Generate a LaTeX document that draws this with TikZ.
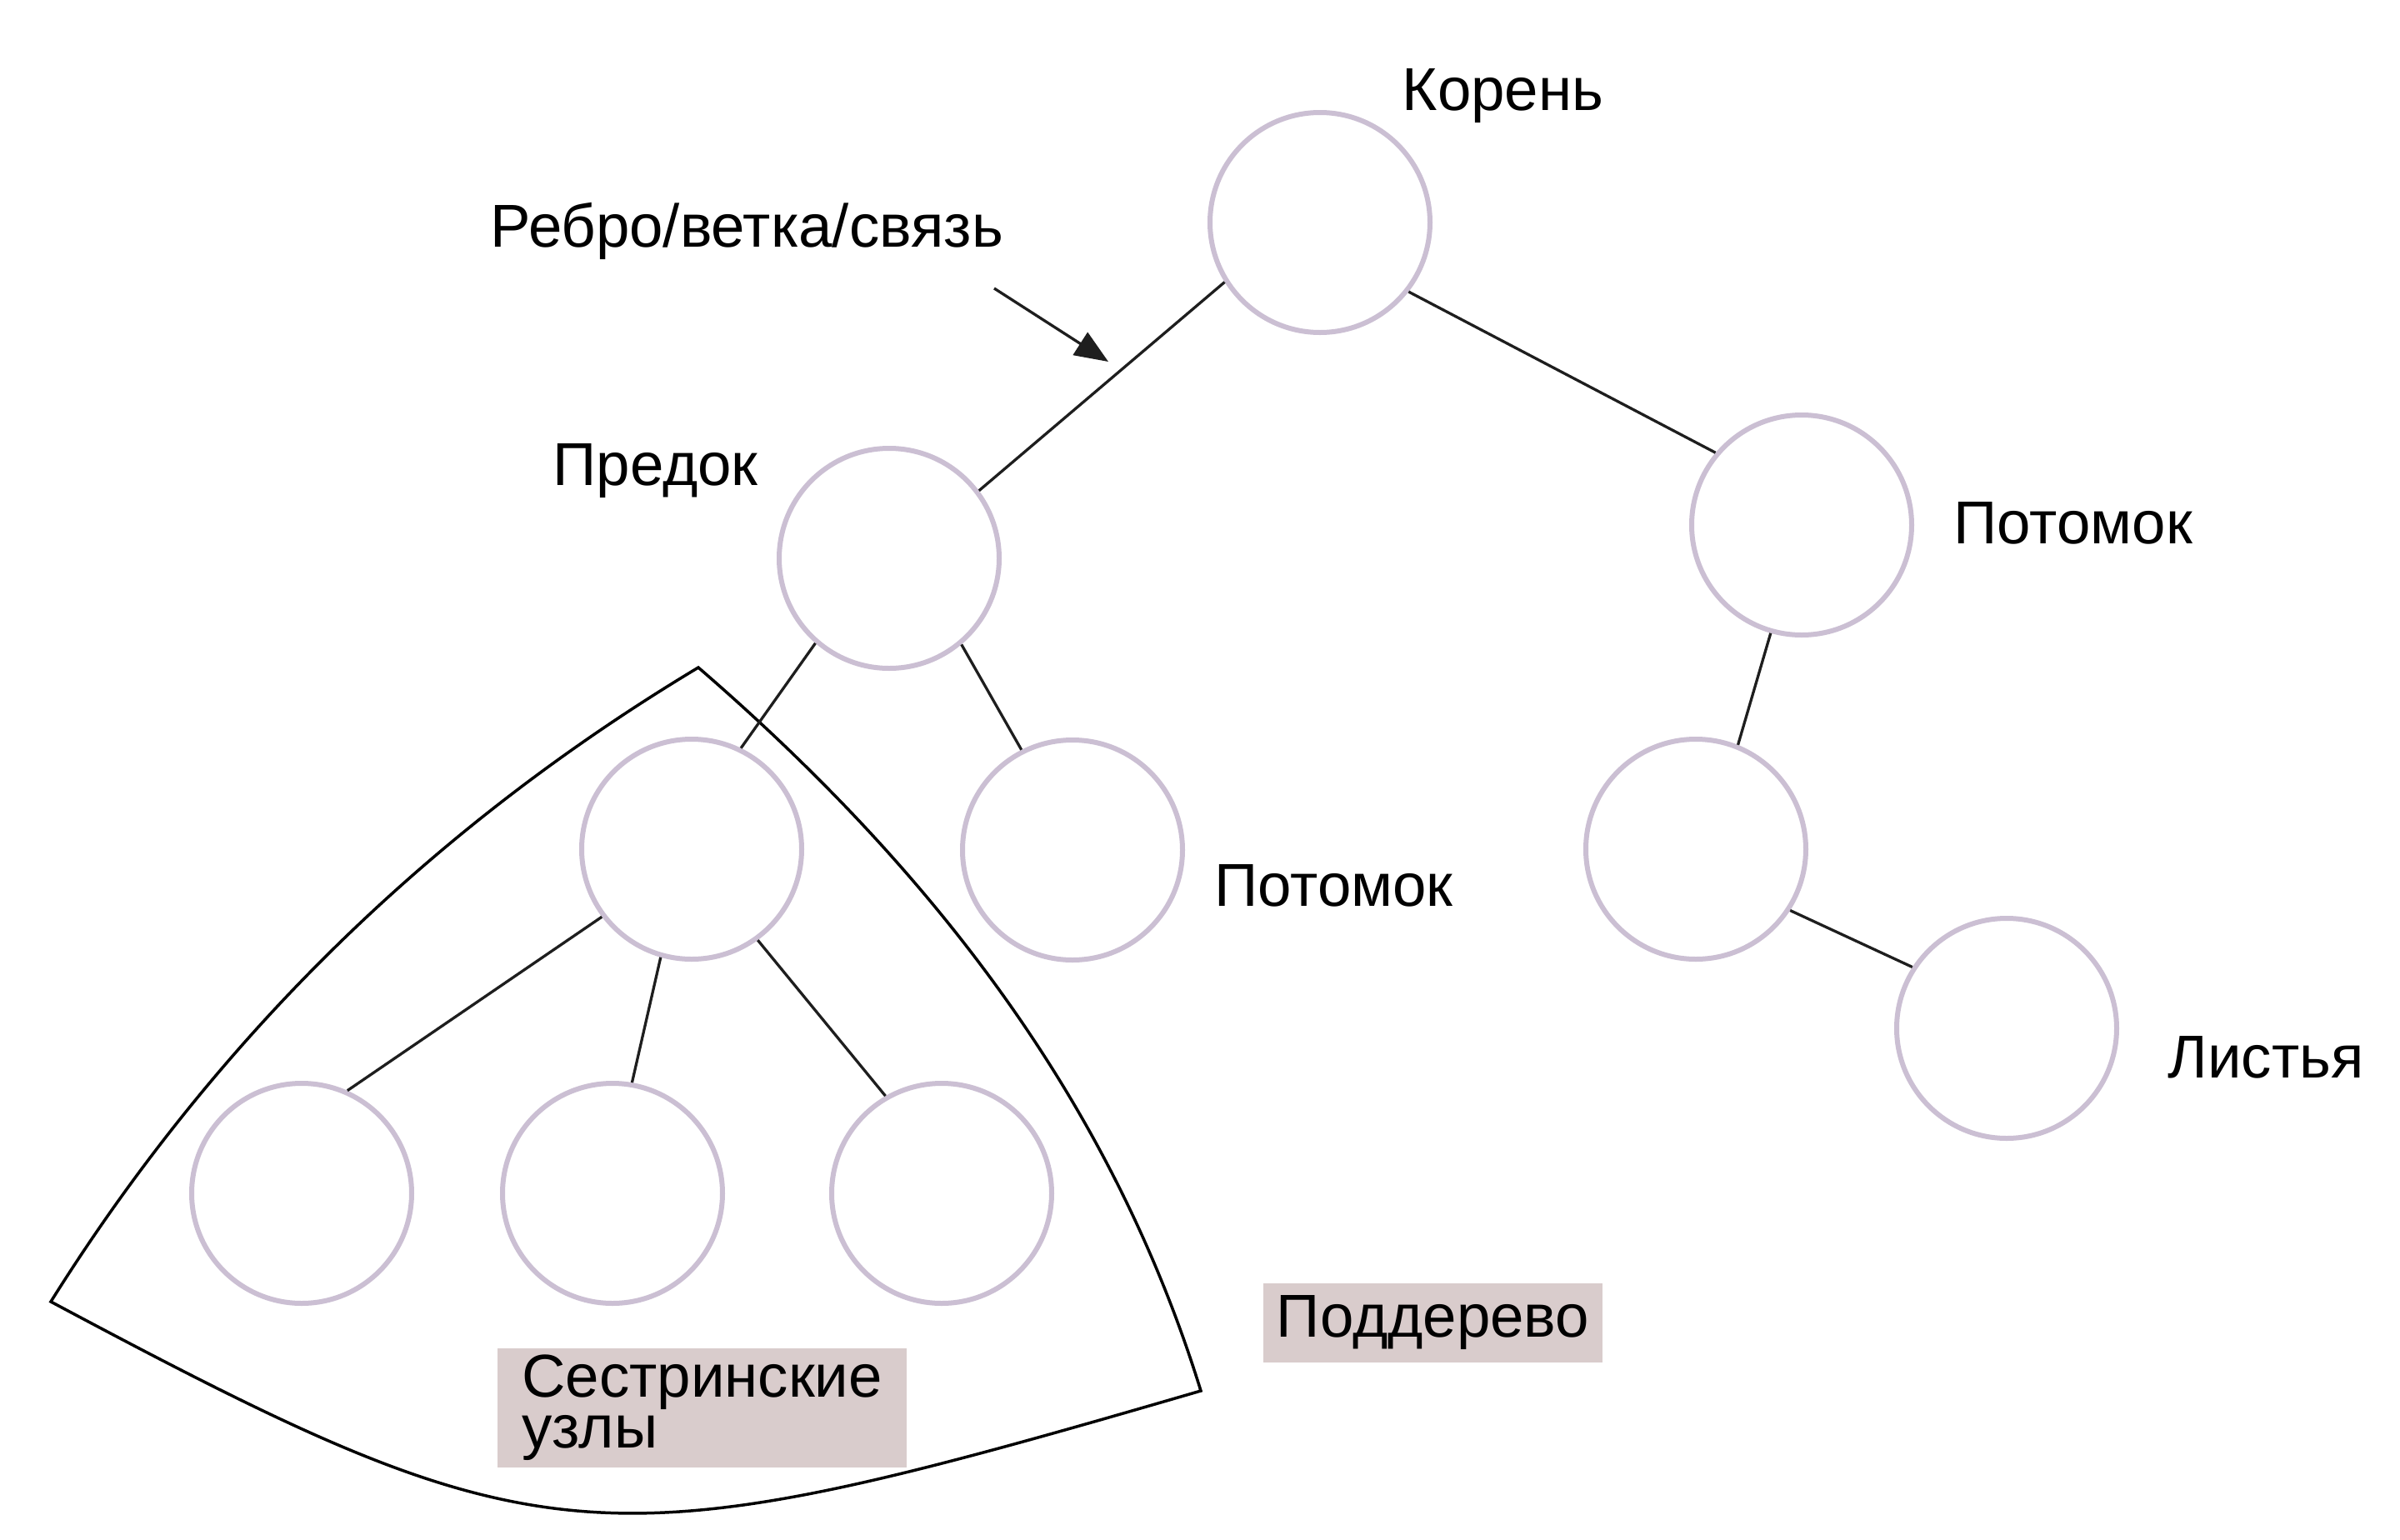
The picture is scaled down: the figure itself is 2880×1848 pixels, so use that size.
\documentclass[tikz,border=0pt]{standalone}
\usepackage{fontspec}
\setmainfont{Liberation Sans}
\usetikzlibrary{arrows.meta}
\definecolor{ringc}{HTML}{CBBFD3}
\definecolor{boxc}{HTML}{D9CCCC}
\definecolor{edgec}{HTML}{1E1E1E}
\newdimen\pxu \pxu=0.01cm
\begin{document}
\begin{tikzpicture}[x=0.01cm,y=-0.01cm,
  treenode/.style={circle, draw=ringc, line width=6\pxu, minimum size=264\pxu, inner sep=0pt, fill=white},
  edge/.style={draw=edgec, line width=3.3\pxu},
  lbl/.style={font=\fontsize{20.66}{24}\selectfont, anchor=base west, inner sep=0pt},
  tagbox/.style={fill=boxc, inner sep=0pt, font=\fontsize{20.66}{17.4}\selectfont}
]
\useasboundingbox (0,0) rectangle (2880,1848);

% subtree outline
\draw[line width=3.5\pxu, line join=miter] (838,801)
  .. controls (518,993) and (259,1246) .. (61,1562)
  .. controls (657,1880) and (717,1880) .. (1441,1669)
  .. controls (1332,1316) and (1113.5,1039) .. cycle;

% nodes
\node[treenode] (root) at (1584,267) {};
\node[treenode] (pred) at (1067,670) {};
\node[treenode] (right) at (2162,630) {};
\node[treenode] (child) at (830,1019) {};
\node[treenode] (mid) at (1287,1020) {};
\node[treenode] (rchild) at (2035,1019) {};
\node[treenode] (leaf) at (2408,1234) {};
\node[treenode] (sib1) at (362,1432) {};
\node[treenode] (sib2) at (735,1432) {};
\node[treenode] (sib3) at (1130,1432) {};

% edges
\draw[edge] (root.212) -- (pred.37);
\draw[edge] (root.322) -- (right.140);
\draw[edge] (pred.229) -- (child.64);
\draw[edge] (pred.310) -- (mid.117);
\draw[edge] (right.254) -- (rchild.68);
\draw[edge] (rchild.327) -- (leaf.147);
\draw[edge] (child.217) -- (sib1.66);
\draw[edge] (child.254) -- (sib2.80);
\draw[edge] (child.306) -- (sib3.120);

% arrow
\coordinate (arrS) at (1193,346);
\coordinate (arrE) at (1330,434);
\draw[edgec, line width=3.3\pxu, -{Triangle[length=11.4pt,width=9.1pt]}] (arrS) -- (arrE);

% labels
\node[lbl] (lroot) at (1682,132) {Корень};
\node[lbl] (ledge) at (588,296) {Ребро/ветка/связь};
\node[lbl] (lpred) at (663,582) {Предок};
\node[lbl] (lright) at (2344,652) {Потомок};
\node[lbl] (lmid) at (1457,1087) {Потомок};
\node[lbl] (lleaf) at (2601,1293) {Листья};
\node[tagbox, minimum width=407\pxu, minimum height=95\pxu] (lsub) at (1719.5,1587.5) {Поддерево};
\node[tagbox, minimum width=491\pxu, minimum height=143\pxu, align=left] (lsib) at (842.5,1689.5) {Сестринские\\узлы};
\end{tikzpicture}
\end{document}
